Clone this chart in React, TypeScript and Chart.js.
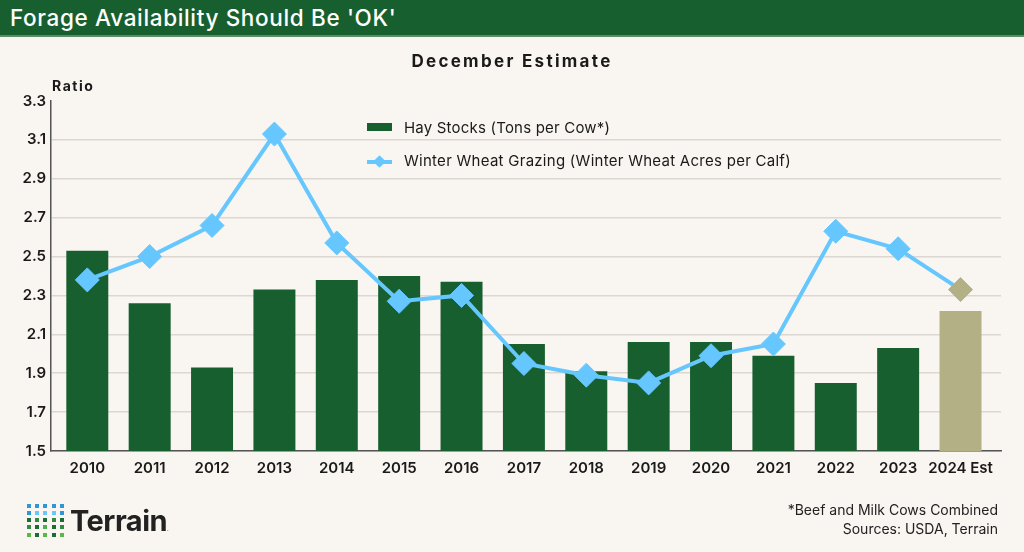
import React, { useEffect, useRef } from "react";
import { Chart, registerables } from "chart.js";

Chart.register(...registerables);

const categories = ["2010", "2011", "2012", "2013", "2014", "2015", "2016", "2017", "2018", "2019", "2020", "2021", "2022", "2023", "2024 Est"];
const hayStocks = [2.53, 2.26, 1.93, 2.33, 2.38, 2.4, 2.37, 2.05, 1.91, 2.06, 2.06, 1.99, 1.85, 2.03, 2.22];
const wheatGrazing = [2.38, 2.5, 2.66, 3.13, 2.57, 2.27, 2.3, 1.95, 1.89, 1.85, 1.99, 2.05, 2.63, 2.54, 2.33];
const yMin = 1.5;
const yMax = 3.3;
const yStep = 0.2;

const GREEN = "#185f30";
const BLUE = "#66c7ff";
const KHAKI = "#b2b084";
const BG = "#f9f5f1";
const FONT = "Inter, 'Noto Sans', sans-serif";

const dotColors = [
  ["#2f97d6", "#2f97d6", "#2f97d6", "#2f97d6", "#2f97d6"],
  ["#2f97d6", "#66c7ff", "#66c7ff", "#66c7ff", "#2f97d6"],
  ["#1d6b35", "#2e8b44", "#1d6b35", "#2e8b44", "#1d6b35"],
  ["#2e8b44", "#1d6b35", "#4caf50", "#1d6b35", "#2e8b44"],
  ["#58b947", "#1d6b35", "#58b947", "#1d6b35", "#58b947"],
];

export default function App() {
  const ref = useRef<HTMLCanvasElement | null>(null);

  useEffect(() => {
    document.body.style.margin = "0";
    const last = categories.length - 1;
    const chart = new Chart(ref.current as HTMLCanvasElement, {
      type: "bar",
      data: {
        datasets: [
          {
            type: "line",
            label: "Winter Wheat Grazing (Winter Wheat Acres per Calf)",
            data: wheatGrazing.map((v, i) => ({ x: i, y: v })),
            borderColor: BLUE,
            borderWidth: 4,
            pointStyle: "rectRot",
            pointRadius: 12,
            pointBorderWidth: 1,
            pointBackgroundColor: wheatGrazing.map((_, i) => (i === last ? KHAKI : BLUE)),
            pointBorderColor: wheatGrazing.map((_, i) => (i === last ? KHAKI : BLUE)),
            tension: 0,
            order: 1,
          } as any,
          {
            type: "bar",
            label: "Hay Stocks (Tons per Cow*)",
            data: hayStocks.map((v, i) => ({ x: i, y: v })),
            backgroundColor: hayStocks.map((_, i) => (i === last ? KHAKI : GREEN)),
            categoryPercentage: 1,
            barPercentage: 0.673,
            order: 2,
          } as any,
        ],
      },
      options: {
        animation: false,
        responsive: false,
        maintainAspectRatio: false,
        layout: { padding: { top: 101, right: 23, left: 0, bottom: 0 } },
        plugins: { legend: { display: false }, tooltip: { enabled: false } },
        scales: {
          x: {
            type: "linear",
            min: -0.582,
            max: categories.length - 1 + 0.649,
            offset: false,
            grid: { display: false, drawTicks: false },
            border: { color: "#555", width: 1.5 },
            afterBuildTicks: (s: any) => {
              s.ticks = categories.map((_, i) => ({ value: i }));
            },
            ticks: {
              color: "#1a1a1a",
              padding: 8,
              maxRotation: 0,
              minRotation: 0,
              autoSkip: false,
              includeBounds: false,
              font: { family: FONT, size: 15, weight: "600" },
              callback: (v: any) => categories[Math.round(Number(v))] ?? "",
            },
            afterFit: (s: any) => {
              s.height = 101;
            },
          },
          y: {
            min: yMin,
            max: yMax,
            grid: {
              drawTicks: false,
              lineWidth: 1.5,
              color: (ctx: any) => (ctx.tick && ctx.tick.value > yMax - 0.05 ? "rgba(0,0,0,0)" : "#ddd7d2"),
            },
            border: { color: "#555", width: 1.5 },
            ticks: {
              stepSize: yStep,
              padding: 5,
              color: "#1a1a1a",
              font: { family: FONT, size: 15, weight: "600" },
              callback: (v: any) => Number(v).toFixed(1),
            },
            afterFit: (s: any) => {
              s.width = 51;
            },
          },
        },
      } as any,
    });
    return () => chart.destroy();
  }, []);

  return (
    <div style={{ position: "absolute", left: 0, top: 0, width: 1024, height: 552, background: BG, overflow: "hidden", fontFamily: FONT, color: "#1a1a1a" }}>
      <canvas ref={ref} width={1024} height={552} style={{ position: "absolute", left: 0, top: 0, width: 1024, height: 552 }} />
      <div style={{ position: "absolute", left: 0, top: 0, width: 1024, height: 35, background: GREEN, borderBottom: "2px solid #5d8d62" }}>
        <div style={{ position: "absolute", left: 10, top: 4, fontSize: 22.5, fontWeight: 500, letterSpacing: 0.65, color: "#fff", whiteSpace: "nowrap" }}>Forage Availability Should Be 'OK'</div>
      </div>
      <div style={{ position: "absolute", left: 0, width: 1024, top: 51, textAlign: "center", fontSize: 17, fontWeight: 700, letterSpacing: 2.3 }}>December Estimate</div>
      <div style={{ position: "absolute", left: 52, top: 77, fontSize: 14, fontWeight: 700, letterSpacing: 1.5 }}>Ratio</div>

      <div style={{ position: "absolute", left: 367, top: 123, width: 25, height: 8, background: GREEN }} />
      <div style={{ position: "absolute", left: 404, top: 118, fontSize: 15, letterSpacing: 0.2, whiteSpace: "nowrap" }}>Hay Stocks (Tons per Cow*)</div>
      <div style={{ position: "absolute", left: 367, top: 160, width: 25, height: 4, background: BLUE }} />
      <div style={{ position: "absolute", left: 375, top: 157, width: 9, height: 9, background: BLUE, transform: "rotate(45deg)" }} />
      <div style={{ position: "absolute", left: 404, top: 151, fontSize: 15, letterSpacing: 0.27, whiteSpace: "nowrap" }}>Winter Wheat Grazing (Winter Wheat Acres per Calf)</div>

      <div style={{ position: "absolute", right: 26, top: 500, fontSize: 14, textAlign: "right", lineHeight: "19px", color: "#222" }}>
        <div>*Beef and Milk Cows Combined</div>
        <div>Sources: USDA, Terrain</div>
      </div>

      {dotColors.map((row, r) =>
        row.map((c, k) => (
          <div key={r + "-" + k} style={{ position: "absolute", left: 27 + k * 8.2, top: 503.5 + r * 7.3, width: 4, height: 4, background: c }} />
        ))
      )}
      <div style={{ position: "absolute", left: 70, top: 504, fontSize: 29, fontWeight: 700, letterSpacing: -0.5, lineHeight: "34px", color: "#222" }}>Terrain<span style={{ fontSize: 6, fontWeight: 400 }}>.</span></div>
    </div>
  );
}
